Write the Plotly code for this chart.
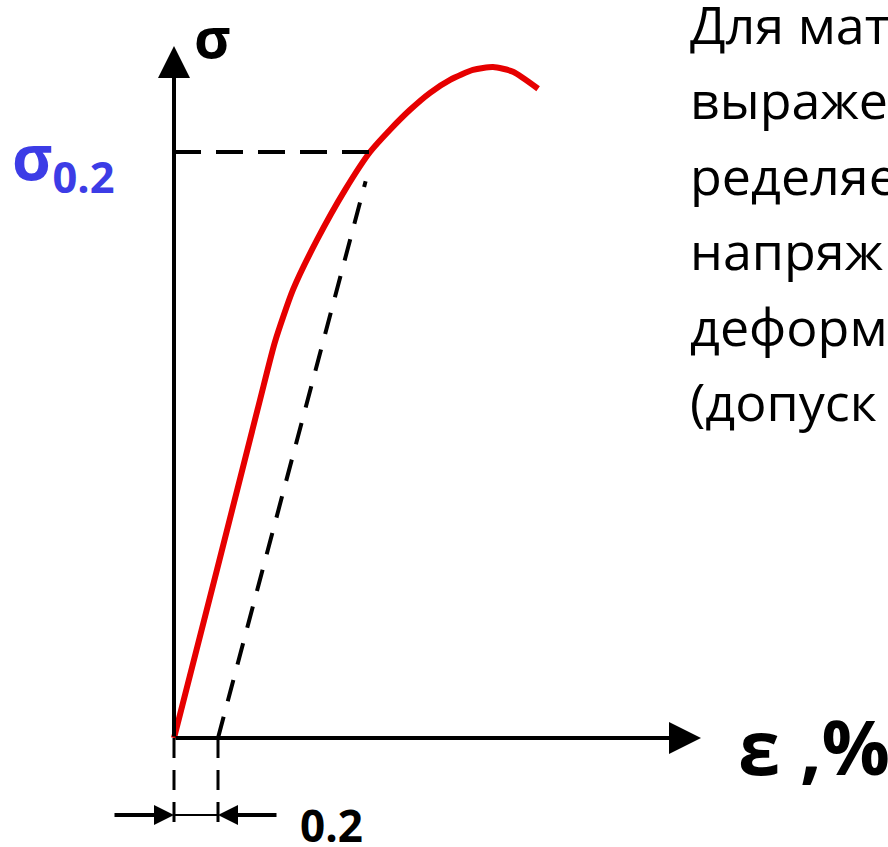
import plotly.graph_objects as go

# Диаграмма растяжения: деформация, % и напряжение (в долях σ0.2)
strain = [0, 0.196, 0.391, 0.459, 0.541, 0.650, 0.777, 0.891, 0.982, 1.073,
          1.164, 1.255, 1.359, 1.450, 1.541, 1.655]
stress = [0, 0.288, 0.577, 0.676, 0.765, 0.850, 0.935, 1.0, 1.038, 1.072,
          1.101, 1.123, 1.140, 1.145, 1.137, 1.108]

offset = 0.2      # допуск на остаточную деформацию, %
sigma_02 = 1.0    # условный предел текучести
eps_02 = 0.891    # деформация в точке σ0.2

# видимая часть текста справа (обрезан краем слайда)
text_lines = ["Для мат", "выраже", "ределяе", "напряж", "деформ", "(допуск"]


# пиксели картинки -> координаты осей
def ex(px):
    return (px - 174) / 220


def sy(py):
    return (738 - py) / 586


fig = go.Figure()

# кривая σ(ε)
fig.add_trace(go.Scatter(x=strain, y=stress, mode="lines",
                         line=dict(color="#e60000", width=6, shape="spline", smoothing=0.6),
                         hoverinfo="skip"))

# линия, параллельная упругому участку, смещённая на 0.2 %
fig.add_trace(go.Scatter(x=[offset, eps_02 - 0.02], y=[0, sigma_02 - 0.05], mode="lines",
                         line=dict(color="black", width=4, dash="22px,16px"),
                         hoverinfo="skip"))

# горизонталь на уровне σ0.2
fig.add_trace(go.Scatter(x=[0, eps_02], y=[sigma_02, sigma_02], mode="lines",
                         line=dict(color="black", width=4, dash="27px,15px"),
                         hoverinfo="skip"))

# выносные линии под осью
for xv in [0, offset]:
    fig.add_trace(go.Scatter(x=[xv, xv], y=[0, sy(828)], mode="lines",
                             line=dict(color="black", width=3, dash="20px,12px"),
                             hoverinfo="skip"))

# размерная линия
fig.add_trace(go.Scatter(x=[0, offset], y=[sy(815), sy(815)], mode="lines",
                         line=dict(color="black", width=2), hoverinfo="skip"))

# оси со стрелками
arrow = dict(xref="x", yref="y", axref="x", ayref="y", text="", showarrow=True,
             arrowcolor="black", arrowhead=2, standoff=0)
fig.add_annotation(x=0, y=sy(46), ax=0, ay=0, arrowwidth=4, arrowsize=1.6, **arrow)
fig.add_annotation(x=ex(701), y=0, ax=0, ay=0, arrowwidth=4, arrowsize=1.6, **arrow)

# стрелки размера 0.2
fig.add_annotation(x=0, y=sy(815), ax=ex(113), ay=sy(815), arrowwidth=4, arrowsize=1.0, **arrow)
fig.add_annotation(x=offset, y=sy(815), ax=ex(278), ay=sy(815), arrowwidth=4, arrowsize=1.0, **arrow)

# подписи
fig.add_annotation(x=ex(212), y=sy(36), xref="x", yref="y", text="<b>σ</b>", showarrow=False,
                   font=dict(family="Open Sans", size=56, color="black"))
fig.add_annotation(x=ex(10), y=sy(160), xref="x", yref="y", xanchor="left",
                   text="<b>σ<sub>0.2</sub></b>", showarrow=False,
                   font=dict(family="Open Sans", size=62, color="#3c3ce6"))
fig.add_annotation(x=ex(736), y=sy(745), xref="x", yref="y", xanchor="left",
                   text="<b>ε ,%</b>", showarrow=False,
                   font=dict(family="Open Sans", size=76, color="black"))
fig.add_annotation(x=ex(298), y=sy(825), xref="x", yref="y", xanchor="left",
                   text="<b>0.2</b>", showarrow=False,
                   font=dict(family="Open Sans", size=44, color="black"))

# текст справа
for i, line in enumerate(text_lines):
    fig.add_annotation(x=ex(688), y=sy(23 + 75.5 * i), xref="x", yref="y", xanchor="left",
                       text=line, showarrow=False,
                       font=dict(family="Open Sans", size=52, color="black"))

fig.update_layout(width=888, height=847, autosize=False,
                  margin=dict(l=0, r=0, t=0, b=0),
                  paper_bgcolor="white", plot_bgcolor="white",
                  showlegend=False,
                  xaxis=dict(range=[ex(0), ex(888)], visible=False, fixedrange=True),
                  yaxis=dict(range=[sy(847), sy(0)], visible=False, fixedrange=True))

fig.write_html("out.html", config={"displayModeBar": False},
               post_script="document.body.style.margin='0';")
